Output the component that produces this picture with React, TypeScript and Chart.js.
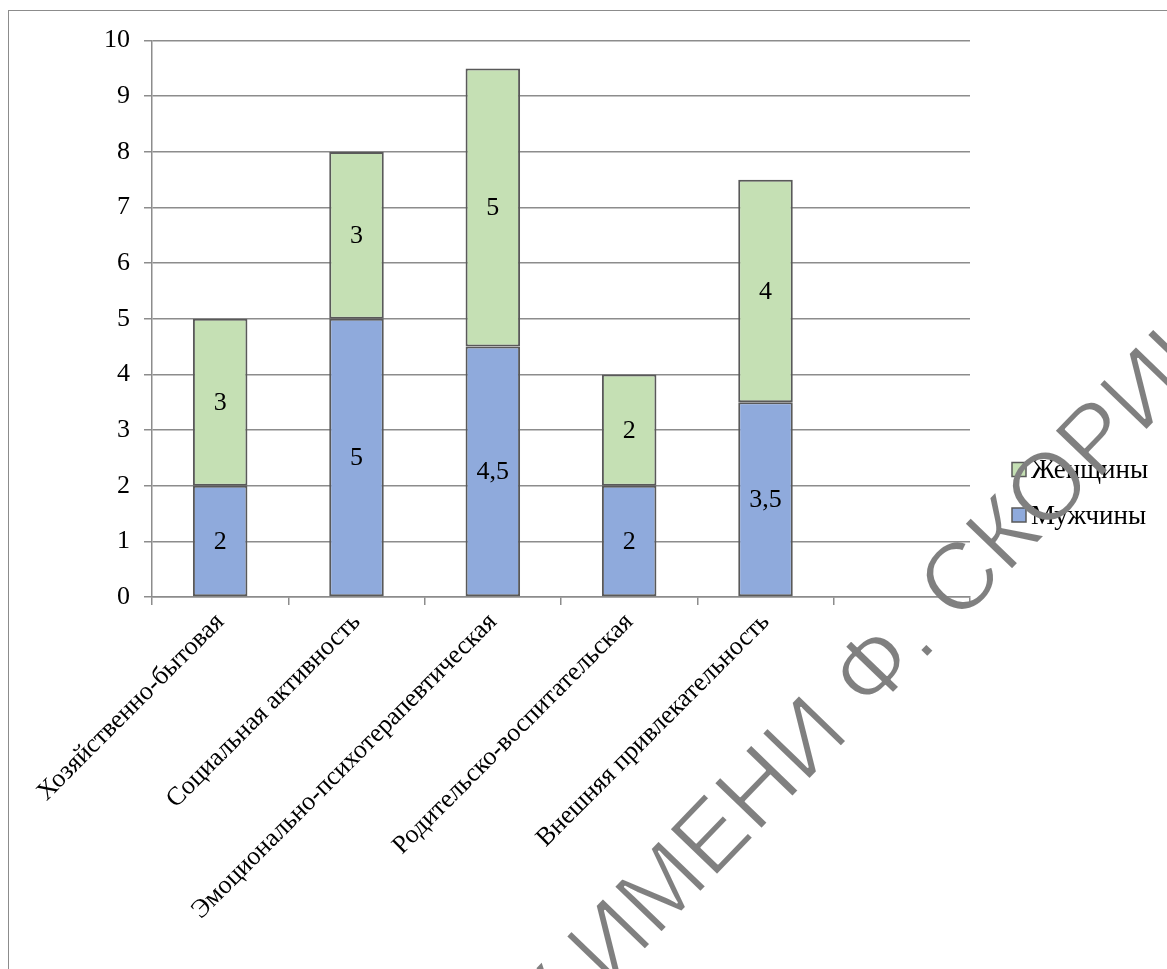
import React, { useEffect, useRef } from "react";
import { Chart, registerables } from "chart.js";

Chart.register(...registerables);

const categories = [
  "Хозяйственно-бытовая",
  "Социальная активность",
  "Эмоционально-психотерапевтическая",
  "Родительско-воспитательская",
  "Внешняя привлекательность",
  "",
];
const menValues = [2, 5, 4.5, 2, 3.5, null];
const womenValues = [3, 3, 5, 2, 4, null];
const seriesNames = ["Мужчины", "Женщины"];
const yMin = 0;
const yMax = 10;
const yStep = 1;
const watermarkLead = "ГГУ ";
const watermarkText = "ИМЕНИ Ф. СКОРИНЫ";

const FONT = '"Liberation Serif", "Times New Roman", serif';

const valueLabels = {
  id: "valueLabels",
  afterDatasetsDraw(chart: any) {
    const ctx = chart.ctx;
    ctx.save();
    ctx.font = `26px ${FONT}`;
    ctx.fillStyle = "#000";
    ctx.textAlign = "center";
    ctx.textBaseline = "middle";
    chart.data.datasets.forEach((ds: any, i: number) => {
      const meta = chart.getDatasetMeta(i);
      meta.data.forEach((el: any, j: number) => {
        const v = ds.data[j];
        if (v == null) return;
        const p = el.getProps(["x", "y", "base"], true);
        ctx.fillText(String(v).replace(".", ","), p.x, (p.y + p.base) / 2 + 1);
      });
    });
    ctx.restore();
  },
};

// Legend drawn to the right of the plot (reverse order, like the original)
const sideLegend = {
  id: "sideLegend",
  afterDraw(chart: any) {
    const ctx = chart.ctx;
    const area = chart.chartArea;
    const boxX = area.right + 42;
    const textX = area.right + 61;
    const rows = [chart.height / 2 - 20.5, chart.height / 2 + 25];
    const ds = chart.data.datasets.slice().reverse();
    ctx.save();
    ctx.font = `27px ${FONT}`;
    ctx.textBaseline = "alphabetic";
    ctx.textAlign = "left";
    ds.forEach((d: any, i: number) => {
      const cy = rows[i];
      ctx.fillStyle = d.backgroundColor;
      ctx.fillRect(boxX, cy - 7, 14, 14);
      ctx.strokeStyle = "#595959";
      ctx.lineWidth = 1.5;
      ctx.strokeRect(boxX, cy - 7, 14, 14);
      ctx.fillStyle = "#000";
      ctx.fillText(d.label, textX, cy + 8.5);
    });
    ctx.restore();
  },
};

const watermark = {
  id: "watermark",
  afterDraw(chart: any) {
    const off = document.createElement("canvas");
    off.width = chart.width;
    off.height = chart.height;
    const o = off.getContext("2d");
    if (!o) return;
    o.translate(599, 977);
    o.rotate((-46 * Math.PI) / 180);
    o.font = `96px "Liberation Sans", Arial, sans-serif`;
    o.fillStyle = "#808080";
    o.textBaseline = "alphabetic";
    const w = o.measureText(watermarkLead).width;
    o.fillText(watermarkLead, -w, 0);
    o.fillText(watermarkText, 0, 0);
    // thin the strokes slightly
    o.globalCompositeOperation = "destination-out";
    o.lineWidth = 2;
    o.lineJoin = "round";
    o.strokeStyle = "#000";
    o.strokeText(watermarkLead, -w, 0);
    o.strokeText(watermarkText, 0, 0);
    const ctx = chart.ctx;
    ctx.save();
    ctx.setTransform(1, 0, 0, 1, 0, 0);
    ctx.drawImage(off, 0, 0);
    ctx.restore();
  },
};

export default function App() {
  const ref = useRef<HTMLCanvasElement | null>(null);

  useEffect(() => {
    if (!ref.current) return;
    Chart.defaults.font.family = FONT;
    Chart.defaults.color = "#000";
    const chart = new Chart(ref.current, {
      type: "bar",
      data: {
        labels: categories,
        datasets: [
          {
            label: seriesNames[0],
            data: menValues,
            backgroundColor: "#8FAADC",
            borderColor: "#595959",
            borderWidth: 2,
            borderSkipped: false,
          },
          {
            label: seriesNames[1],
            data: womenValues,
            backgroundColor: "#C5E0B4",
            borderColor: "#595959",
            borderWidth: 2,
            borderSkipped: false,
          },
        ],
      },
      options: {
        responsive: false,
        animation: false,
        layout: { padding: { top: 29, right: 197, bottom: 0, left: 0 } },
        datasets: {
          bar: { barPercentage: 0.4, categoryPercentage: 1 },
        },
        plugins: {
          legend: { display: false },
          tooltip: { enabled: false },
        },
        scales: {
          x: {
            stacked: true,
            grid: {
              drawOnChartArea: false,
              drawTicks: true,
              tickLength: 8,
              color: "#8c8c8c",
              lineWidth: 1.5,
              offset: true,
            },
            border: { color: "#8c8c8c", width: 1.5 },
            ticks: {
              autoSkip: false,
              minRotation: 45,
              maxRotation: 45,
              padding: 2,
              font: { size: 26, family: FONT },
              color: "#000",
            },
            afterFit(scale: any) {
              scale.height = 372;
            },
          },
          y: {
            stacked: true,
            min: yMin,
            max: yMax,
            ticks: {
              stepSize: yStep,
              padding: 14,
              font: { size: 26, family: FONT },
              color: "#000",
            },
            grid: {
              color: "#8c8c8c",
              lineWidth: 1.5,
              tickLength: 8,
            },
            border: { color: "#8c8c8c", width: 1.5 },
            afterFit(scale: any) {
              scale.width = 143;
            },
          },
        },
      },
      plugins: [valueLabels, sideLegend, watermark],
    } as any);
    return () => chart.destroy();
  }, []);

  return (
    <div
      style={{
        position: "fixed",
        left: 8,
        top: 10,
        width: 1200,
        height: 1000,
        border: "1px solid #8c8c8c",
        background: "#fff",
      }}
    >
      <canvas ref={ref} width={1158} height={958} style={{ display: "block" }} />
    </div>
  );
}
